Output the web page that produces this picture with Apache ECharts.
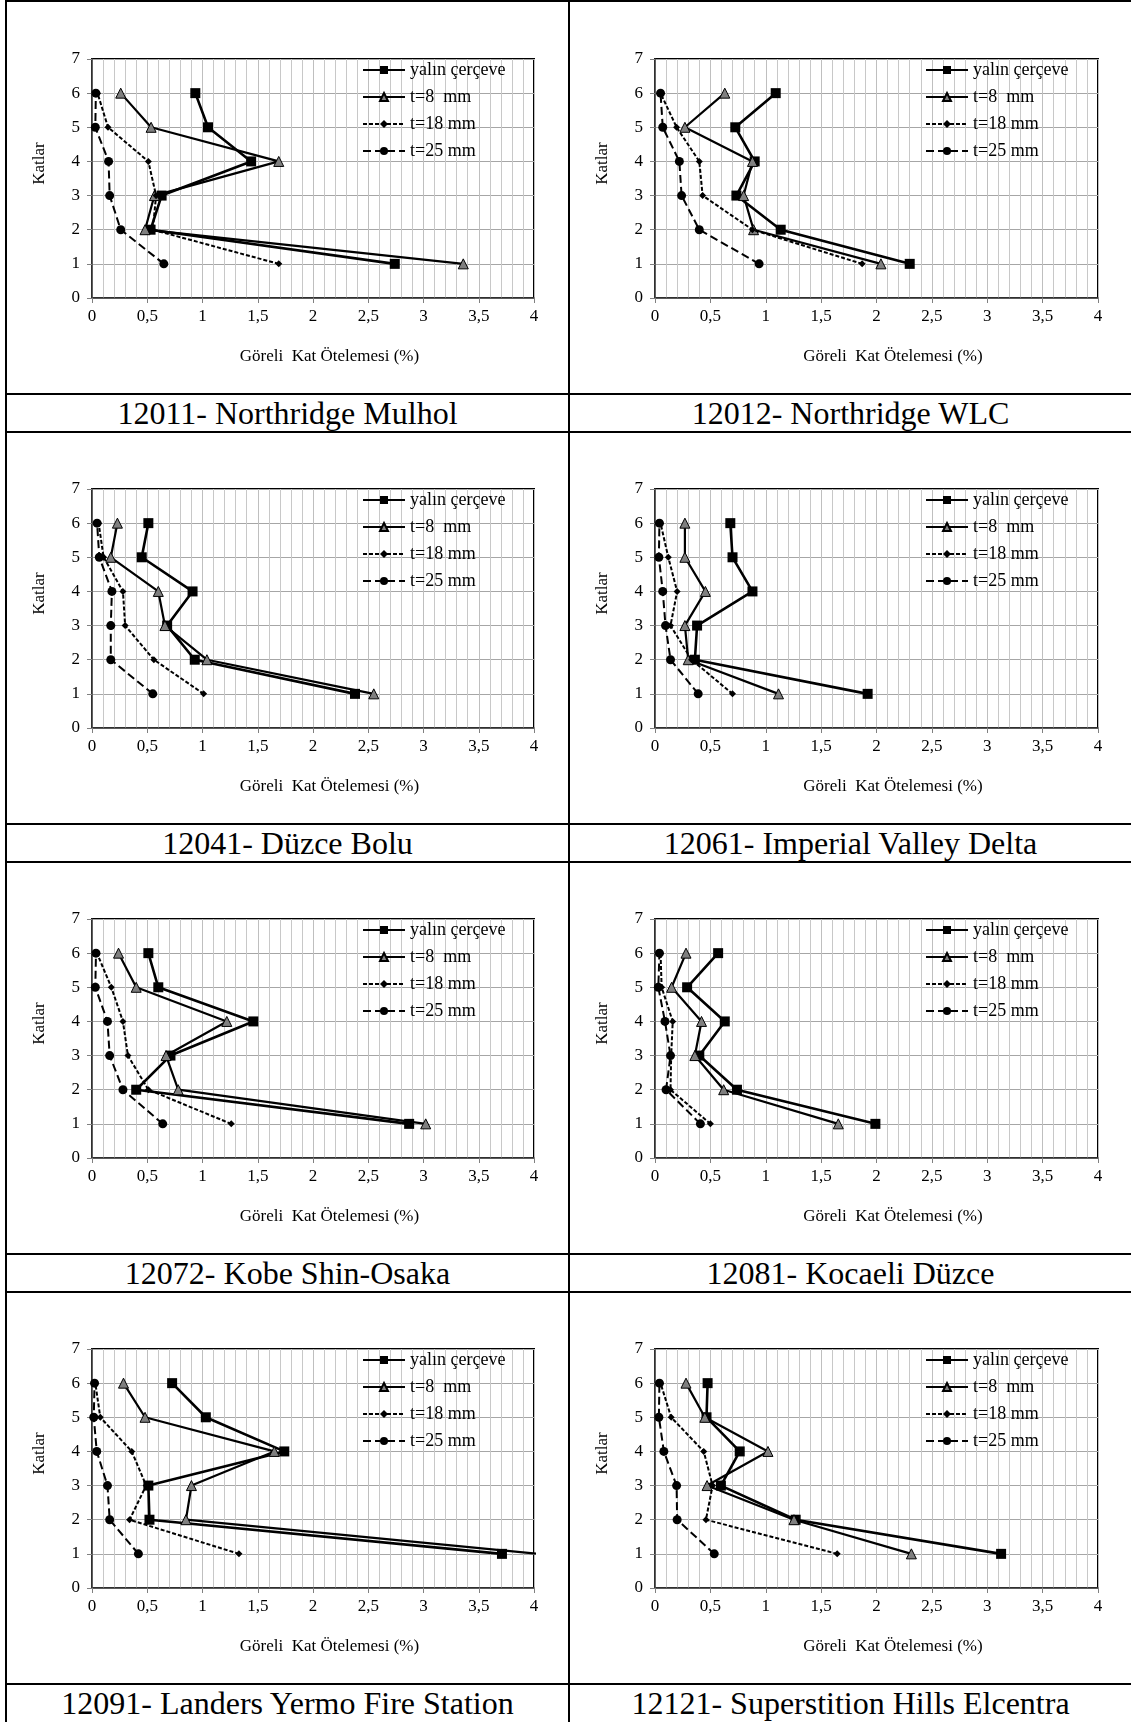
<!DOCTYPE html>
<html>
<head>
<meta charset="utf-8">
<script src="https://cdn.jsdelivr.net/npm/echarts@6.0.0/dist/echarts.min.js"></script>
<style>
  html, body { margin: 0; padding: 0; background: #fff; }
  body { width: 1131px; height: 1722px; position: relative; overflow: hidden;
         font-family: "Liberation Serif", "Times New Roman", serif; }
  .chart { position: absolute; }
  .hline { position: absolute; left: 5px; right: 0; height: 2px; background: #000; }
  .vline { position: absolute; top: 0; width: 2px; height: 1722px; background: #000; }
  .caption { position: absolute; height: 36px; line-height: 36px; text-align: center;
             font-size: 32px; color: #000; white-space: nowrap; }
</style>
</head>
<body>
<script>
// floors (Katlar) 1..6, values are storey drift ratio in %
var floors = [1, 2, 3, 4, 5, 6];
var seriesNames = ['yalın çerçeve', 't=8  mm', 't=18 mm', 't=25 mm'];
var titles = [
  '12011- Northridge Mulhol', '12012- Northridge WLC',
  '12041- Düzce Bolu', '12061- Imperial Valley Delta',
  '12072- Kobe Shin-Osaka', '12081- Kocaeli Düzce',
  '12091- Landers Yermo Fire Station', '12121- Superstition Hills Elcentra'
];

var mulholYalin = [2.74, 0.53, 0.63, 1.44, 1.05, 0.935];
var mulholT8    = [3.36, 0.48, 0.565, 1.69, 0.535, 0.26];
var mulholT18   = [1.69, 0.55, 0.58, 0.51, 0.145, 0.05];
var mulholT25   = [0.65, 0.26, 0.16, 0.15, 0.03, 0.035];

var wlcYalin = [2.30, 1.135, 0.735, 0.90, 0.725, 1.09];
var wlcT8    = [2.04, 0.89, 0.80, 0.88, 0.27, 0.63];
var wlcT18   = [1.87, 0.88, 0.43, 0.40, 0.195, 0.05];
var wlcT25   = [0.94, 0.40, 0.24, 0.22, 0.07, 0.05];

var boluYalin = [2.38, 0.93, 0.68, 0.91, 0.45, 0.51];
var boluT8    = [2.55, 1.04, 0.66, 0.60, 0.17, 0.23];
var boluT18   = [1.01, 0.56, 0.30, 0.28, 0.105, 0.06];
var boluT25   = [0.55, 0.17, 0.17, 0.18, 0.066, 0.046];

var deltaYalin = [1.92, 0.36, 0.38, 0.88, 0.70, 0.68];
var deltaT8    = [1.115, 0.30, 0.27, 0.455, 0.27, 0.27];
var deltaT18   = [0.70, 0.33, 0.14, 0.20, 0.12, 0.05];
var deltaT25   = [0.39, 0.14, 0.095, 0.07, 0.035, 0.04];

var kobeYalin = [2.87, 0.40, 0.71, 1.46, 0.60, 0.51];
var kobeT8    = [3.02, 0.78, 0.67, 1.22, 0.40, 0.24];
var kobeT18   = [1.26, 0.51, 0.325, 0.28, 0.175, 0.045];
var kobeT25   = [0.64, 0.28, 0.16, 0.14, 0.03, 0.036];

var duzceYalin = [1.99, 0.74, 0.40, 0.63, 0.29, 0.57];
var duzceT8    = [1.655, 0.62, 0.36, 0.42, 0.15, 0.28];
var duzceT18   = [0.50, 0.14, 0.146, 0.16, 0.06, 0.05];
var duzceT25   = [0.41, 0.10, 0.14, 0.09, 0.03, 0.04];

var yermoYalin = [3.71, 0.52, 0.51, 1.74, 1.03, 0.725];
var yermoT8    = [4.03, 0.85, 0.90, 1.65, 0.48, 0.285];
var yermoT18   = [1.33, 0.34, 0.49, 0.36, 0.075, 0.03];
var yermoT25   = [0.42, 0.16, 0.14, 0.043, 0.016, 0.023];

var elcentraYalin = [3.125, 1.27, 0.595, 0.765, 0.465, 0.475];
var elcentraT8    = [2.315, 1.255, 0.47, 1.02, 0.45, 0.28];
var elcentraT18   = [1.645, 0.46, 0.52, 0.44, 0.146, 0.05];
var elcentraT25   = [0.535, 0.20, 0.195, 0.08, 0.035, 0.04];

var panels = [
  [mulholYalin, mulholT8, mulholT18, mulholT25],
  [wlcYalin, wlcT8, wlcT18, wlcT25],
  [boluYalin, boluT8, boluT18, boluT25],
  [deltaYalin, deltaT8, deltaT18, deltaT25],
  [kobeYalin, kobeT8, kobeT18, kobeT25],
  [duzceYalin, duzceT8, duzceT18, duzceT25],
  [yermoYalin, yermoT8, yermoT18, yermoT25],
  [elcentraYalin, elcentraT8, elcentraT18, elcentraT25]
];

var FONT = '"Liberation Serif", "Times New Roman", serif';
var colX = [0, 570], colW = [568, 561];
var rowTop = [0, 432, 862, 1292];
var gridTopRel = [59, 57, 57, 57];
var gridLeftRel = [92, 85];
var captionTop = [395, 825, 1255, 1685];

// series looks: solid square, solid triangle, short dash diamond, long dash circle
var looks = [
  { symbol: 'rect', size: 10, fill: '#000', width: 2.6, type: 'solid' },
  { symbol: 'triangle', size: 10, fill: '#7f7f7f', width: 2.2, type: 'solid' },
  { symbol: 'diamond', size: 7, fill: '#000', width: 2, type: [4, 2] },
  { symbol: 'circle', size: 9, fill: '#000', width: 2, type: [8, 4] }
];

function pairs(vals) {
  return vals.map(function(v, i) { return [v, floors[i]]; });
}

function comma(v) { return String(v).replace('.', ','); }

// table lines
function addDiv(cls, css) {
  var d = document.createElement('div');
  d.className = cls;
  for (var k in css) d.style[k] = css[k];
  document.body.appendChild(d);
  return d;
}
addDiv('hline', { top: '0px', left: '5px' });
[393, 431, 823, 861, 1253, 1291, 1683].forEach(function(y) { addDiv('hline', { top: y + 'px' }); });
addDiv('vline', { left: '5px' });
addDiv('vline', { left: '568px' });

panels.forEach(function(p, idx) {
  var col = idx % 2, row = Math.floor(idx / 2);
  var el = addDiv('chart', {
    left: colX[col] + 'px', top: (rowTop[row] + 2) + 'px',
    width: colW[col] + 'px', height: '390px'
  });
  var gTop = gridTopRel[row] - 2, gLeft = gridLeftRel[col];

  var cap = addDiv('caption', {
    left: (col === 0 ? 7 : 570) + 'px', top: captionTop[row] + 'px',
    width: '561px'
  });
  cap.textContent = titles[idx];

  var chart = echarts.init(el, null, { renderer: 'canvas' });
  chart.setOption({
    animation: false,
    textStyle: { fontFamily: FONT, color: '#000' },
    grid: {
      left: gLeft, top: gTop, width: col === 0 ? 442 : 443, height: 239,
      show: true, borderColor: '#000', borderWidth: 2, backgroundColor: '#fff'
    },
    legend: {
      data: seriesNames,
      orient: 'vertical',
      left: gLeft + 270,
      top: gTop + 2,
      padding: 0,
      itemWidth: 42,
      itemHeight: 10,
      itemGap: 9,
      textStyle: { fontFamily: FONT, fontSize: 18, color: '#000', lineHeight: 18 }
    },
    xAxis: {
      type: 'value', min: 0, max: 4, interval: 0.5,
      name: 'Göreli  Kat Ötelemesi (%)',
      nameLocation: 'middle', nameGap: 50,
      nameTextStyle: { fontFamily: FONT, fontSize: 17, color: '#000', padding: [0, 0, 0, 33] },
      axisLine: { show: true, lineStyle: { color: '#404040', width: 1.5 } },
      axisTick: { show: true, inside: false, length: 5, lineStyle: { color: '#808080' } },
      axisLabel: { fontFamily: FONT, fontSize: 17, color: '#000', margin: 10, formatter: comma },
      splitLine: { show: true, lineStyle: { color: '#bfbfbf', width: 1 } },
      minorTick: { show: false, splitNumber: 5 },
      minorSplitLine: { show: true, lineStyle: { color: '#c8c8c8', width: 1 } }
    },
    yAxis: {
      type: 'value', min: 0, max: 7, interval: 1,
      name: 'Katlar', nameLocation: 'middle', nameRotate: 90, nameGap: 44,
      nameTextStyle: { fontFamily: FONT, fontSize: 17, color: '#000', padding: [0, 0, 0, 30] },
      axisLine: { show: true, lineStyle: { color: '#404040', width: 1.5 } },
      axisTick: { show: true, inside: false, length: 5, lineStyle: { color: '#808080' } },
      axisLabel: { fontFamily: FONT, fontSize: 17, color: '#000', margin: 12 },
      splitLine: { show: true, lineStyle: { color: '#a6a6a6', width: 1 } }
    },
    series: p.map(function(vals, si) {
      var lk = looks[si];
      return {
        name: seriesNames[si],
        type: 'line',
        data: pairs(vals),
        clip: true,
        symbol: lk.symbol,
        symbolSize: lk.size,
        showAllSymbol: true,
        itemStyle: { color: lk.fill, borderColor: '#000', borderWidth: si === 1 ? 1 : 0 },
        lineStyle: { color: '#000', width: lk.width, type: lk.type },
        z: 2 + si
      };
    })
  });
});
</script>
</body>
</html>
